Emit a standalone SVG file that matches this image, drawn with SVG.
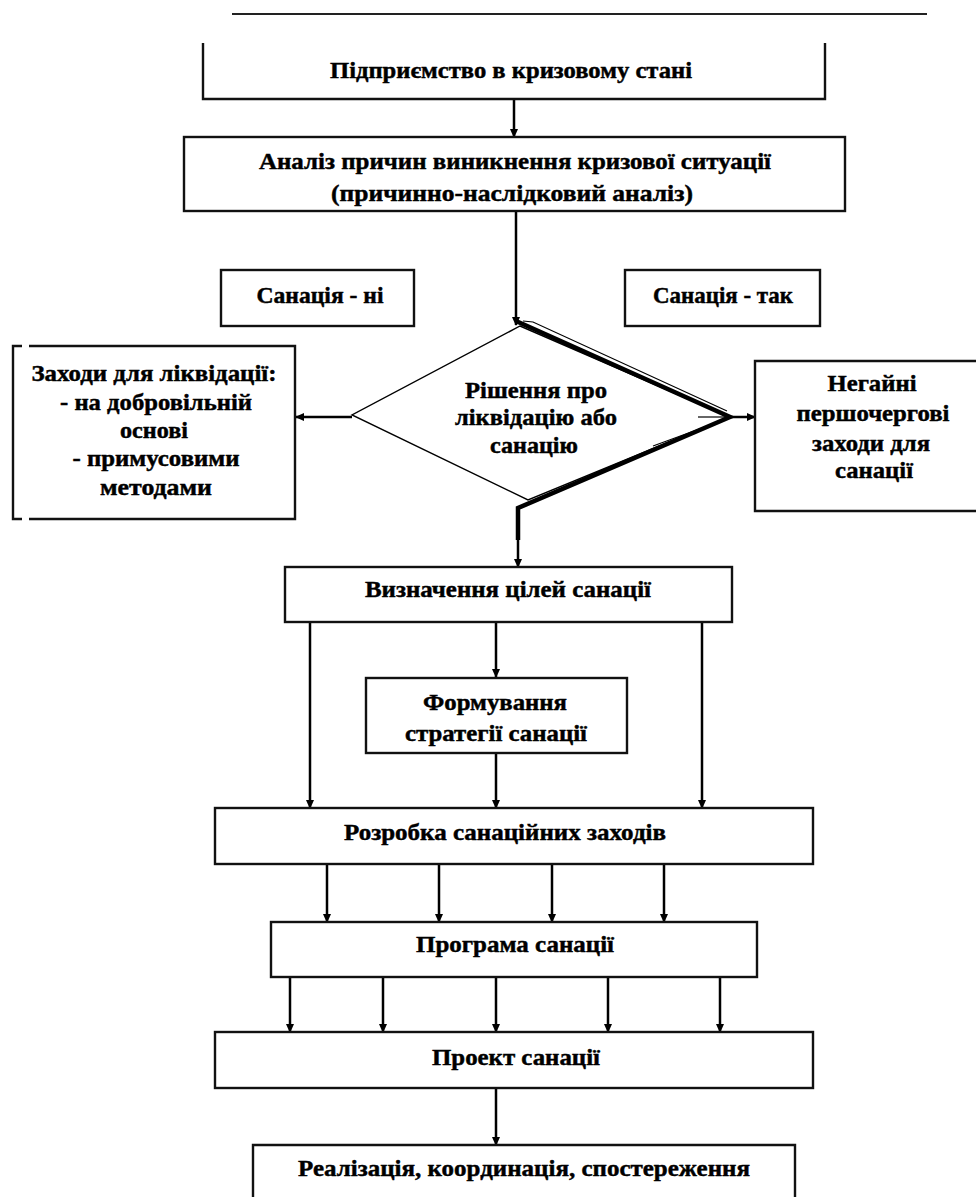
<svg xmlns="http://www.w3.org/2000/svg" width="976" height="1197" viewBox="0 0 976 1197">
<style>
.box{fill:#fff;stroke:#111;stroke-width:2.4}
.open{fill:none;stroke:#111;stroke-width:2.4}
.t{font-family:"Liberation Serif","Times New Roman",serif;font-weight:bold;font-size:23px;fill:#000;stroke:#000;stroke-width:0.45;text-anchor:middle}
.c{fill:none;stroke:#000;stroke-width:2.5}
.thin{fill:none;stroke:#000;stroke-width:1.2}
.thick{fill:none;stroke:#000;stroke-width:4.5;stroke-linejoin:miter}
</style>
<defs>
<marker id="ah" markerUnits="userSpaceOnUse" markerWidth="9" markerHeight="9" refX="8" refY="4.5" orient="auto">
<path d="M0,0.5 L9,4.5 L0,8.5 z" fill="#000"/>
</marker>
</defs>
<rect width="976" height="1197" fill="#fff"/>
<line x1="232" y1="14" x2="927" y2="14" stroke="#222" stroke-width="2"/>

<g id="connectors">
<path class="c" d="M514,99 V137" marker-end="url(#ah)"/>
<path class="c" d="M516,212 V325" marker-end="url(#ah)"/>
<path class="c" d="M352,417 H296" marker-end="url(#ah)"/>
<path class="c" d="M730,417 H755" marker-end="url(#ah)"/>
<path class="thick" d="M516,321 L730,417 L518,508 V540"/>
<path class="c" stroke-width="3.4" d="M518,538 V567" marker-end="url(#ah)"/>
<polyline class="thin" points="523,321 533,322 727,411"/>
<polyline class="thin" points="698,417 727,417"/>
<polyline class="thin" points="653,446 724,420"/>
<path class="c" d="M310,622 V808" marker-end="url(#ah)"/>
<path class="c" d="M496,622 V677" marker-end="url(#ah)"/>
<path class="c" d="M702,622 V808" marker-end="url(#ah)"/>
<path class="c" d="M496,753 V808" marker-end="url(#ah)"/>
<path class="c" d="M327,864 V922" marker-end="url(#ah)"/>
<path class="c" d="M439,864 V922" marker-end="url(#ah)"/>
<path class="c" d="M552,864 V922" marker-end="url(#ah)"/>
<path class="c" d="M664,864 V922" marker-end="url(#ah)"/>
<path class="c" d="M290,977 V1032" marker-end="url(#ah)"/>
<path class="c" d="M383,977 V1032" marker-end="url(#ah)"/>
<path class="c" d="M496,977 V1032" marker-end="url(#ah)"/>
<path class="c" d="M608,977 V1032" marker-end="url(#ah)"/>
<path class="c" d="M720,977 V1032" marker-end="url(#ah)"/>
<path class="c" d="M496,1088 V1145" marker-end="url(#ah)"/>
</g>

<g id="n-enterprise">
<path class="open" d="M203,43 V99 H825 V43"/>
<text class="t" x="511" y="78" textLength="362" lengthAdjust="spacingAndGlyphs">Підприємство в кризовому стані</text>
</g>

<g id="n-analysis">
<rect class="box" x="184" y="137" width="661" height="74"/>
<text class="t" x="515" y="169" textLength="512" lengthAdjust="spacingAndGlyphs">Аналіз причин виникнення кризової ситуації</text>
<text class="t" x="512" y="201" textLength="362" lengthAdjust="spacingAndGlyphs">(причинно-наслідковий аналіз)</text>
</g>

<g id="n-no">
<rect class="box" x="221" y="270" width="193" height="56"/>
<text class="t" x="320" y="303" textLength="127" lengthAdjust="spacingAndGlyphs">Санація - ні</text>
</g>

<g id="n-yes">
<rect class="box" x="625" y="270" width="195" height="56"/>
<text class="t" x="723" y="303" textLength="140" lengthAdjust="spacingAndGlyphs">Санація - так</text>
</g>

<g id="n-decision">
<polygon points="520,326 730,417 528,500 352,415" fill="none" stroke="#000" stroke-width="1.4"/>
<text class="t" x="536" y="398" textLength="142" lengthAdjust="spacingAndGlyphs">Рішення про</text>
<text class="t" x="536" y="425" textLength="162" lengthAdjust="spacingAndGlyphs">ліквідацію або</text>
<text class="t" x="534" y="453" textLength="88" lengthAdjust="spacingAndGlyphs">санацію</text>
</g>

<g id="n-liquidation">
<path class="open" d="M22,346 H13 V519 H22 M29,346 H295 V519 H29"/>
<text class="t" x="154" y="381" textLength="245" lengthAdjust="spacingAndGlyphs">Заходи для ліквідації:</text>
<text class="t" x="156" y="410" textLength="192" lengthAdjust="spacingAndGlyphs">- на добровільній</text>
<text class="t" x="154" y="438" textLength="68" lengthAdjust="spacingAndGlyphs">основі</text>
<text class="t" x="156" y="466" textLength="167" lengthAdjust="spacingAndGlyphs">- примусовими</text>
<text class="t" x="156" y="495" textLength="112" lengthAdjust="spacingAndGlyphs">методами</text>
</g>

<g id="n-urgent">
<path class="open" d="M980,361 H755 V511 H980"/>
<text class="t" x="872" y="391" textLength="89" lengthAdjust="spacingAndGlyphs">Негайні</text>
<text class="t" x="873" y="421" textLength="153" lengthAdjust="spacingAndGlyphs">першочергові</text>
<text class="t" x="871" y="451" textLength="118" lengthAdjust="spacingAndGlyphs">заходи для</text>
<text class="t" x="874" y="478" textLength="78" lengthAdjust="spacingAndGlyphs">санації</text>
</g>

<g id="n-goals">
<rect class="box" x="285" y="567" width="447" height="55"/>
<text class="t" x="508" y="597" textLength="286" lengthAdjust="spacingAndGlyphs">Визначення цілей санації</text>
</g>

<g id="n-strategy">
<rect class="box" x="366" y="678" width="261" height="75"/>
<text class="t" x="495" y="710" textLength="144" lengthAdjust="spacingAndGlyphs">Формування</text>
<text class="t" x="496" y="741" textLength="182" lengthAdjust="spacingAndGlyphs">стратегії санації</text>
</g>

<g id="n-measures">
<rect class="box" x="215" y="808" width="598" height="56"/>
<text class="t" x="505" y="840" textLength="322" lengthAdjust="spacingAndGlyphs">Розробка санаційних заходів</text>
</g>

<g id="n-program">
<rect class="box" x="271" y="922" width="486" height="55"/>
<text class="t" x="515" y="952" textLength="198" lengthAdjust="spacingAndGlyphs">Програма санації</text>
</g>

<g id="n-project">
<rect class="box" x="215" y="1032" width="598" height="56"/>
<text class="t" x="516" y="1065" textLength="168" lengthAdjust="spacingAndGlyphs">Проект санації</text>
</g>

<g id="n-implementation">
<path class="open" d="M253,1200 V1145 H795 V1200"/>
<text class="t" x="524" y="1176" textLength="452" lengthAdjust="spacingAndGlyphs">Реалізація, координація, спостереження</text>
</g>
</svg>
